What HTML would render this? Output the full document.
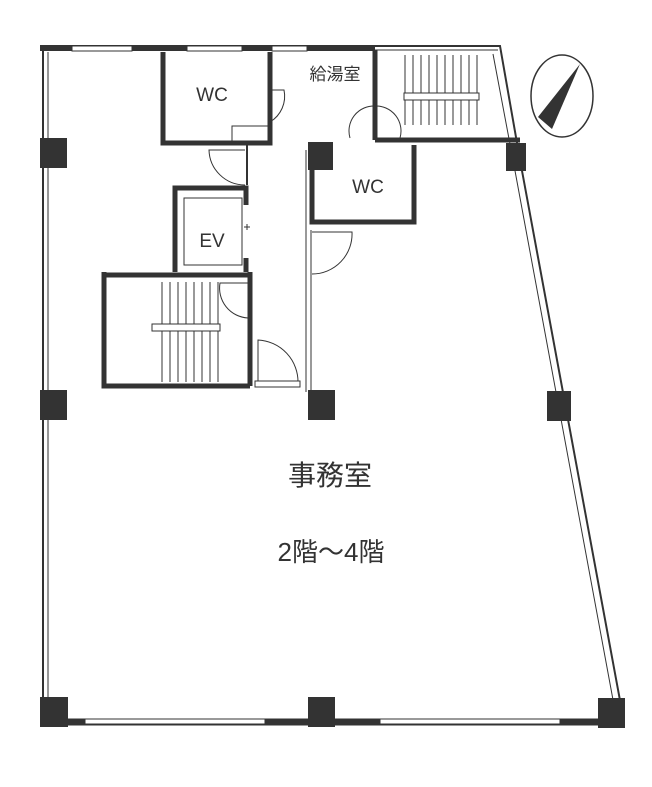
<!DOCTYPE html>
<html><head><meta charset="utf-8"><style>
html,body{margin:0;padding:0;background:#fff;width:652px;height:787px;overflow:hidden}
svg{display:block}
text{font-family:"Liberation Sans","Noto Sans CJK JP",sans-serif;fill:#333}
</style></head><body>
<svg width="652" height="787" viewBox="0 0 652 787">
<g fill="none" stroke="#333">
<path d="M43 48 V722" stroke-width="2"/>
<path d="M48 52 V718" stroke-width="1"/>
<path d="M40 46 H500 L520 160 L624 722" stroke-width="2"/>
<path d="M493 54 L513 160 L616 716" stroke-width="1"/>
<path d="M40 48 H375" stroke-width="6"/>
<path d="M40 722 H625" stroke-width="7"/>
</g>
<g fill="#fff" stroke="#333" stroke-width="1">
<rect x="85" y="719" width="180" height="5"/>
<rect x="380" y="719" width="180" height="5"/>
<rect x="72" y="46" width="60" height="5"/>
<rect x="187" y="46" width="55" height="5"/>
<rect x="272" y="46" width="35" height="5"/>
</g>
<g fill="#333">
<rect x="40" y="138" width="27" height="30"/>
<rect x="40" y="390" width="27" height="30"/>
<rect x="40" y="697" width="28" height="30"/>
<rect x="308" y="390" width="27" height="30"/>
<rect x="308" y="697" width="27" height="30"/>
<rect x="547" y="391" width="24" height="30"/>
<rect x="598" y="698" width="27" height="30"/>
<rect x="506" y="143" width="20" height="28"/>
<rect x="308" y="142" width="25" height="28"/>
</g>
<g fill="none" stroke="#333">
<path d="M163 52 V143 H270 V52" stroke-width="5"/>
<rect x="232" y="126" width="36" height="15" stroke-width="1"/>
<path d="M270 90 h14 a30 30 0 0 1 -14 32" stroke-width="1"/>
<path d="M375 50 V140" stroke-width="5"/>
<path d="M375 50 H498" stroke-width="1"/>
<path d="M375 140 H520" stroke-width="5"/>
<path d="M350 138 a25 25 0 0 1 25 -32 a25 25 0 0 1 25 32" stroke-width="1"/>
<path d="M405 55 V125 M413 55 V125 M421 55 V125 M429 55 V125 M437 55 V125 M445 55 V125 M453 55 V125 M461 55 V125 M469 55 V125 M477 55 V125" stroke-width="1"/>
<rect x="404" y="93" width="75" height="7" fill="#fff" stroke-width="1"/>
<path d="M312 145 V222 H414 V145" stroke-width="5"/>
<path d="M306 150 V392 M311 230 V392" stroke-width="1"/>
<path d="M312 232 h40 a40 40 0 0 1 -40 42" stroke-width="1"/>
<path d="M247 143 V185" stroke-width="2"/>
<path d="M245 150 h-36 a36 36 0 0 0 36 35" stroke-width="1"/>
<path d="M246 205 V188 H175 V272" stroke-width="5"/>
<rect x="184" y="198" width="58" height="67" stroke-width="1"/>
<path d="M246 258 V272" stroke-width="5"/>
<path d="M244 227 h6 M247 224 v6" stroke-width="1"/>
<path d="M104 275 H250 M104 272 V386 H250 M250 272 V386" stroke-width="5"/>
<path d="M162 282 V382 M170 282 V382 M178 282 V382 M186 282 V382 M194 282 V382 M202 282 V382 M210 282 V382 M218 282 V382" stroke-width="1"/>
<rect x="152" y="324" width="68" height="7" fill="#fff" stroke-width="1"/>
<path d="M248 283 h-28 a30 30 0 0 0 28 35" stroke-width="1"/>
<path d="M258 383 V340 a42 42 0 0 1 40 43 Z" stroke-width="1"/>
<rect x="255" y="381" width="45" height="6" fill="#fff" stroke-width="1"/>
<ellipse cx="562" cy="96" rx="31" ry="41" stroke-width="1.5"/>
</g>
<polygon points="580,64 538,117 552,129" fill="#333"/>
<text x="212" y="101" font-size="19" text-anchor="middle">WC</text>
<text x="335" y="80" font-size="17" text-anchor="middle">給湯室</text>
<text x="368" y="193" font-size="19" text-anchor="middle">WC</text>
<text x="212" y="247" font-size="19" text-anchor="middle">EV</text>
<text x="330" y="485" font-size="28" text-anchor="middle">事務室</text>
<text x="331" y="561" font-size="26" text-anchor="middle">2階～4階</text>
</svg>
</body></html>
